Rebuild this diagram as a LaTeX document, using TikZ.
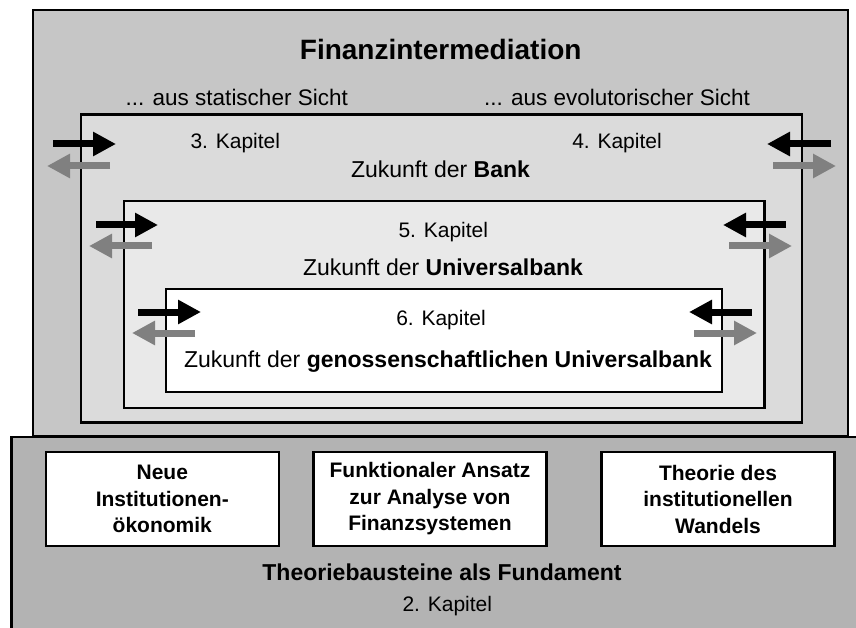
\documentclass[tikz,border=0pt]{standalone}
\usepackage{fontspec}
\setmainfont{Liberation Sans}
\usetikzlibrary{arrows.meta}
\definecolor{outergray}{HTML}{C6C6C6}
\definecolor{basegray}{HTML}{B3B3B3}
\definecolor{bankgray}{HTML}{DBDBDB}
\definecolor{unigray}{HTML}{E9E9E9}
\definecolor{arrgray}{HTML}{808080}
\tikzset{
  frame/.style={draw=black, line width=2.2pt, inner sep=0pt, outer sep=0pt},
  titletxt/.style={font=\bfseries\fontsize{28}{32}\selectfont, anchor=base, inner sep=0pt},
  subtxt/.style={font=\fontsize{22.5}{27}\selectfont, anchor=base, inner sep=0pt},
  kaptxt/.style={font=\fontsize{21}{25}\selectfont, anchor=base, inner sep=0pt},
  zuktxt/.style={font=\fontsize{23}{27}\selectfont, anchor=base, inner sep=0pt},
  labbox/.style={frame, fill=white, minimum width=233pt, minimum height=94pt, align=center,
                 font=\bfseries\fontsize{21}{26.5}\selectfont},
  blkarrow/.style={draw=black, line width=7pt, -{Triangle[length=23pt,width=23pt]}},
  gryarrow/.style={draw=arrgray, line width=7pt, -{Triangle[length=23pt,width=23pt]}}
}
\begin{document}
\begin{tikzpicture}[x=1pt, y=-1pt]
\useasboundingbox (0,0) rectangle (856,628);
% outer box
\node[frame, fill=outergray, line width=2.8pt, minimum width=815pt, minimum height=426pt] (outer) at (440.5,223) {};
% foundation box
\fill[basegray] (11.7,437) rectangle (860,632);
\draw[line width=2.8pt] (860,437) -- (11.7,437) -- (11.7,632);
% nested boxes
\node[frame, fill=bankgray, minimum width=721pt, minimum height=308pt] (bank) at (441.5,268.5) {};
\node[frame, fill=unigray, minimum width=640.5pt, minimum height=207pt] (uni) at (444.25,304.5) {};
\node[frame, fill=white, minimum width=556pt, minimum height=103.3pt] (geno) at (444,340.6) {};
% texts
\node[titletxt] (title) at (440.7,60) {Finanzintermediation};
\node[subtxt] (stat) at (236.7,106) {... aus statischer Sicht};
\node[subtxt] (evol) at (617,106) {... aus evolutorischer Sicht};
\node[kaptxt] (k3) at (235.3,149) {3. Kapitel};
\node[kaptxt] (k4) at (617,149) {4. Kapitel};
\node[zuktxt] (zbank) at (440.5,177.7) {Zukunft der \textbf{Bank}};
\node[kaptxt] (k5) at (443.3,237.3) {5. Kapitel};
\node[zuktxt] (zuni) at (443,275) {Zukunft der \textbf{Universalbank}};
\node[kaptxt] (k6) at (441,325) {6. Kapitel};
\node[zuktxt] (zgeno) at (448,367) {Zukunft der \textbf{genossenschaftlichen Universalbank}};
% foundation boxes
\node[labbox] (nioe) at (162.3,499) {Neue\\Institutionen-\\ökonomik};
\node[labbox] (funk) at (430,499) {Funktionaler Ansatz\\zur Analyse von\\Finanzsystemen};
\node[labbox] (wandel) at (718,499) {Theorie des\\institutionellen\\Wandels};
\node[font=\bfseries\fontsize{23}{27}\selectfont, anchor=base, inner sep=0pt] (fund) at (442,580) {Theoriebausteine als Fundament};
\node[kaptxt] (k2) at (447.3,611) {2. Kapitel};
% arrow end points
\coordinate (l1bs) at (53,144);  \coordinate (l1be) at (116,144);
\coordinate (l1gs) at (110,166); \coordinate (l1ge) at (47,166);
\coordinate (l2bs) at (96,225);  \coordinate (l2be) at (158,225);
\coordinate (l2gs) at (152,246); \coordinate (l2ge) at (89,246);
\coordinate (l3bs) at (138,312); \coordinate (l3be) at (201,312);
\coordinate (l3gs) at (195,333); \coordinate (l3ge) at (132,333);
\coordinate (r1bs) at (831,144); \coordinate (r1be) at (767,144);
\coordinate (r1gs) at (773,166); \coordinate (r1ge) at (836,166);
\coordinate (r2bs) at (786,225); \coordinate (r2be) at (723,225);
\coordinate (r2gs) at (729,246); \coordinate (r2ge) at (792,246);
\coordinate (r3bs) at (752,312); \coordinate (r3be) at (689,312);
\coordinate (r3gs) at (694,333); \coordinate (r3ge) at (757,333);
% arrows
\draw[blkarrow] (l1bs) -- (l1be);
\draw[gryarrow] (l1gs) -- (l1ge);
\draw[blkarrow] (l2bs) -- (l2be);
\draw[gryarrow] (l2gs) -- (l2ge);
\draw[blkarrow] (l3bs) -- (l3be);
\draw[gryarrow] (l3gs) -- (l3ge);
\draw[blkarrow] (r1bs) -- (r1be);
\draw[gryarrow] (r1gs) -- (r1ge);
\draw[blkarrow] (r2bs) -- (r2be);
\draw[gryarrow] (r2gs) -- (r2ge);
\draw[blkarrow] (r3bs) -- (r3be);
\draw[gryarrow] (r3gs) -- (r3ge);
\end{tikzpicture}
\end{document}
